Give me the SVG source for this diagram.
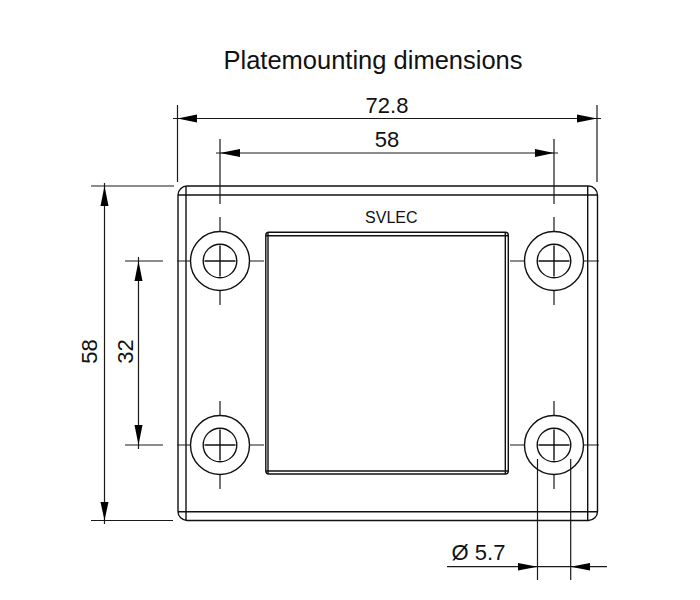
<svg xmlns="http://www.w3.org/2000/svg" width="700" height="600" viewBox="0 0 700 600">
<defs>
<style>
.l{fill:none;stroke:#1a1a1a;stroke-width:1.2}
.p{fill:none;stroke:#111;stroke-width:1.4}
.a{fill:#000;stroke:none}
text{font-family:"Liberation Sans",Arial,sans-serif;fill:#111;text-anchor:middle}
.d{font-size:22px}
</style>
</defs>
<rect width="700" height="600" fill="#fff"/>
<text x="373" y="69" style="font-size:25.500px">Platemounting dimensions</text>
<g id="plate">
<rect class="p" x="178" y="186" width="419.500" height="334.500" rx="9" ry="9"/>
<path class="p" d="M186 186V520.500M587.700 186V520.500M178 195H597.500M178 511.700H597.500"/>
</g>
<g id="window">
<rect class="p" x="265.800" y="232.300" width="242.500" height="241.700" rx="3" ry="3"/>
<path class="p" d="M268 232.300V474M505.300 232.300V474M265.800 235.700H508.300M265.800 471H508.300"/>
</g>
<text id="brand" x="391.300" y="222.700" style="font-size:16px">SVLEC</text>
<g id="hole-tl"><circle class="p" cx="220" cy="261" r="29.500"/><circle class="p" cx="220" cy="261" r="16.800"/><path class="p" d="M204.500 261H235.500M220 245.500V276.500"/></g>
<g id="hole-tr"><circle class="p" cx="554" cy="261" r="29.500"/><circle class="p" cx="554" cy="261" r="16.800"/><path class="p" d="M538.500 261H569.500M554 245.500V276.500"/></g>
<g id="hole-bl"><circle class="p" cx="220" cy="445" r="29.500"/><circle class="p" cx="220" cy="445" r="16.800"/><path class="p" d="M204.500 445H235.500M220 429.500V460.500"/></g>
<g id="hole-br"><circle class="p" cx="554" cy="445" r="29.500"/><circle class="p" cx="554" cy="445" r="16.800"/><path class="p" d="M538.500 445H569.500M554 429.500V460.500"/></g>
<g id="connectors">
<path class="l" d="M177 261H190.500M249.500 261H264M510 261H524.500M583.500 261H599M177 445H190.500M249.500 445H264M510 445H524.500M583.500 445H599"/>
<path class="l" d="M220 139V204M220 217V231.500M220 290.500V305M554 139V204M554 217V231.500M554 290.500V305M220 401V415.500M220 474.500V489M554 401V415.500M554 474.500V489"/>
<path class="l" d="M125 261H163M125 445H163M91 186H174M91 520.500H173M177.500 105V182M597 105V182"/>
<path class="l" d="M173 118.500H601M216 153H558M104.500 183V524M138.500 257V449"/>
<path class="l" d="M537.500 459V580M570.700 459V580M447 566.700H607"/>
<path class="a" d="M177.500 118.500L197 114.500V122.500ZM597 118.500L577 114.500V122.500ZM220 153L240 149V157ZM554 153L535 149V157ZM104.500 186L100.500 206H108.500ZM104.500 520.500L100.500 502H108.500ZM138.500 261L134.500 281H142.500ZM138.500 445L134.500 425H142.500ZM537.500 566.700L518 563V570.500ZM570.700 566.700L590 563V570.500Z"/>
</g>
<text class="d" x="387" y="112.500">72.8</text>
<text class="d" x="387" y="147">58</text>
<text class="d" transform="translate(97 351.500) rotate(-90)">58</text>
<text class="d" transform="translate(133 351.500) rotate(-90)">32</text>
<text class="d" x="478.500" y="560">Ø 5.7</text>
</svg>
